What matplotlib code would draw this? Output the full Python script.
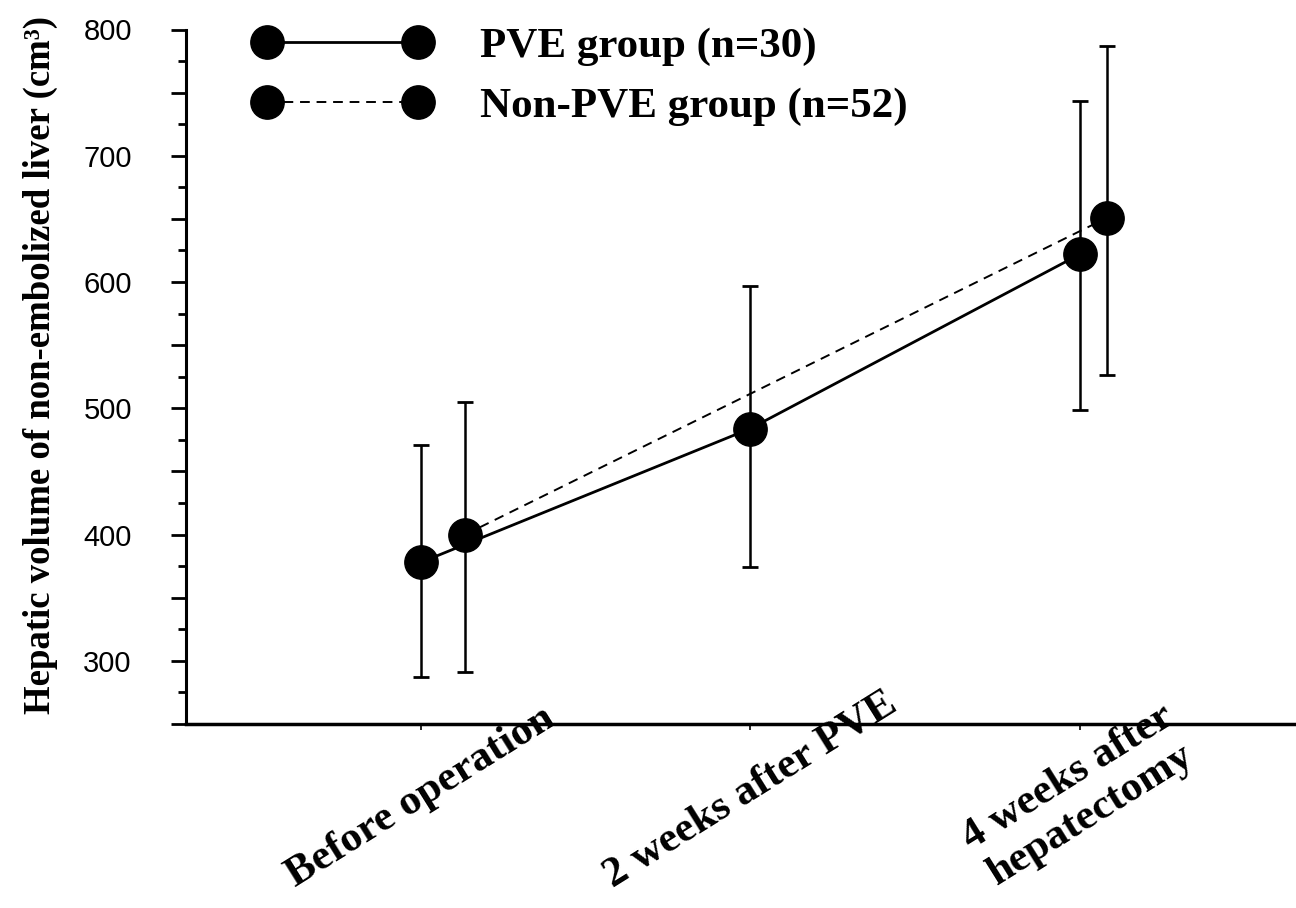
import matplotlib
matplotlib.use("Agg")
import matplotlib.pyplot as plt
from matplotlib.ticker import MultipleLocator, FuncFormatter
import numpy as np

# ---------------- data ----------------
categories = ["Before operation", "2 weeks after PVE", "4 weeks after\nhepatectomy"]

pve_label = "PVE group (n=30)"
pve_mean = [378, 484, 622]
pve_upper = [471, 597, 743]
pve_lower = [287, 374, 499]

nonpve_label = "Non-PVE group (n=52)"
nonpve_cat_index = [0, 2]
nonpve_mean = [400, 651]
nonpve_upper = [505, 787]
nonpve_lower = [291, 526]

ylabel = "Hepatic volume of non-embolized liver (cm³)"

# ---------------- layout / style ----------------
W, H = 1296, 908
nonpve_shift = [0.134, 0.083]
serif = ["Liberation Serif", "DejaVu Serif"]
sans = ["Liberation Sans", "DejaVu Sans"]

fig = plt.figure(figsize=(W / 100, H / 100), dpi=100)
ax = fig.add_axes([186 / W, (H - 724) / H, 1 - 186 / W, (724 - 29.5) / H])

x_pve = np.arange(len(categories))
x_non = np.array(nonpve_cat_index) + np.array(nonpve_shift)

pm = np.array(pve_mean)
nm = np.array(nonpve_mean)

ax.errorbar(x_pve, pm, yerr=[pm - np.array(pve_lower), np.array(pve_upper) - pm],
            fmt="none", ecolor="black", elinewidth=1.8, capsize=5.5, capthick=2, zorder=2)
ax.errorbar(x_non, nm, yerr=[nm - np.array(nonpve_lower), np.array(nonpve_upper) - nm],
            fmt="none", ecolor="black", elinewidth=1.8, capsize=5.5, capthick=2, zorder=2)

l_pve, = ax.plot(x_pve, pm, color="black", lw=2.0, marker="o", ms=24,
                 markerfacecolor="black", markeredgecolor="black", zorder=4, label=pve_label)
l_non, = ax.plot(x_non, nm, color="black", lw=1.4, ls=(0, (5, 3.5)), marker="o", ms=24,
                 markerfacecolor="black", markeredgecolor="black", zorder=3, label=nonpve_label)

ax.set_xlim(-0.713, 2.656)
ax.set_ylim(250, 800)

for s in ["top", "right"]:
    ax.spines[s].set_visible(False)
ax.spines["left"].set_linewidth(2.2)
ax.spines["bottom"].set_linewidth(2.5)

# y ticks
ax.yaxis.set_major_locator(MultipleLocator(50))
ax.yaxis.set_minor_locator(MultipleLocator(25))
ax.yaxis.set_major_formatter(FuncFormatter(lambda v, p: f"{int(round(v))}" if round(v) % 100 == 0 and v >= 300 else ""))
ax.tick_params(axis="y", which="major", direction="out", length=11, width=2, pad=28, labelsize=21)
ax.tick_params(axis="y", which="minor", direction="out", length=5.8, width=2)
for t in ax.get_yticklabels():
    t.set_fontfamily(sans)

# x ticks
ax.set_xticks(x_pve)
ax.set_xticklabels(categories, rotation=32, ha="center", va="bottom",
                   fontsize=31, fontweight="bold", fontfamily=serif, multialignment="center")
ax.tick_params(axis="x", which="major", direction="out", length=4, width=1.2, pad=119)

# y label
ax.set_ylabel(ylabel, fontsize=26.5, fontweight="bold", fontfamily=serif)
ax.yaxis.set_label_coords(-0.115, 0.517)

# legend
fs = 31
fpx = fs * 100 / 72
leg = ax.legend(handles=[l_pve, l_non], loc="upper left",
                bbox_to_anchor=((267 - 0.3 * fpx) / W, 1 - 27 / H),
                bbox_transform=fig.transFigure, frameon=False, numpoints=2,
                handlelength=(151 + 0.6 * fpx) / fpx, handletextpad=1.15,
                labelspacing=0.475, borderpad=0, borderaxespad=0,
                prop={"family": serif, "weight": "bold", "size": fs})

fig.savefig("out.png", dpi=100)
